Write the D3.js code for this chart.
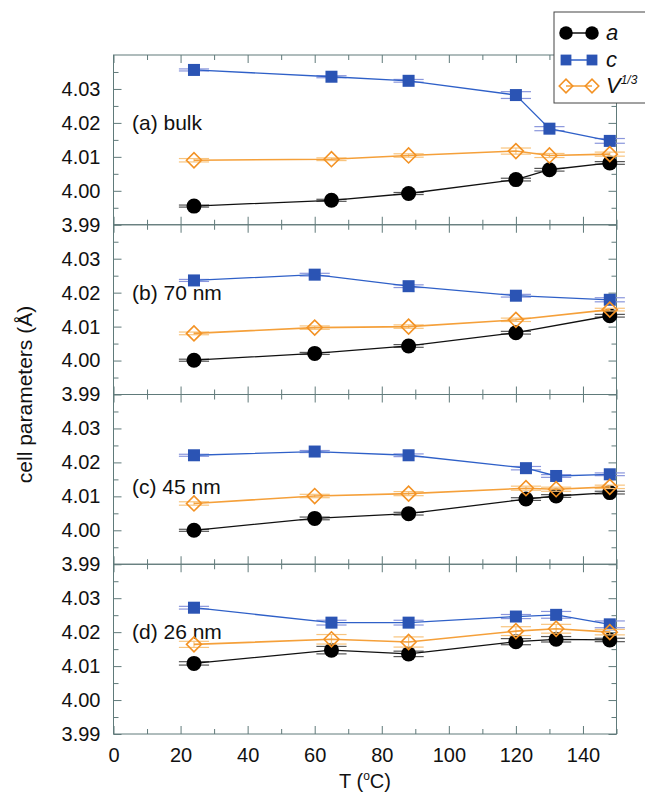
<!DOCTYPE html>
<html>
<head>
<meta charset="utf-8">
<script src="https://cdn.jsdelivr.net/npm/d3@7"></script>
<style>
  body { margin: 0; background: #fff; }
  svg { display: block; font-family: "Liberation Sans", Arial, Helvetica, sans-serif; }
</style>
</head>
<body>
<svg id="chart" width="645" height="794"></svg>
<script>
// temperatures (°C) measured for each sample
const tBulk = [24, 65, 88, 120, 130, 148]
const t70 = [24, 60, 88, 120, 148]
const t45 = [24, 60, 88, 123, 132, 148]
const t26 = [24, 65, 88, 120, 132, 148]

// cell parameters (Å): a, c and V^(1/3)
const aBulk = [3.9955, 3.9972, 3.9992, 4.0033, 4.0062, 4.0082]
const cBulk = [4.0356, 4.0336, 4.0324, 4.0282, 4.0183, 4.0147]
const vBulk = [4.0090, 4.0093, 4.0104, 4.0117, 4.0104, 4.0108]

const a70 = [4.0001, 4.0021, 4.0043, 4.0082, 4.0132]
const c70 = [4.0236, 4.0253, 4.0219, 4.0191, 4.0179]
const v70 = [4.0080, 4.0097, 4.0100, 4.0120, 4.0150]

const a45 = [4.0000, 4.0035, 4.0049, 4.0092, 4.0101, 4.0111]
const c45 = [4.0221, 4.0232, 4.0221, 4.0183, 4.0160, 4.0165]
const v45 = [4.0079, 4.0101, 4.0108, 4.0124, 4.0121, 4.0128]

const a26 = [4.0108, 4.0147, 4.0136, 4.0172, 4.0179, 4.0177]
const c26 = [4.0272, 4.0228, 4.0228, 4.0246, 4.0251, 4.0223]
const v26 = [4.0164, 4.0179, 4.0171, 4.0203, 4.0210, 4.0200]

// error bars (Å)
const aErrBulk = [0.0003, 0.0003, 0.0003, 0.0004, 0.0004, 0.0004]
const cErrBulk = [0.0003, 0.0003, 0.0004, 0.0010, 0.0006, 0.0007]
const vErrBulk = [0.0005, 0.0004, 0.0005, 0.0009, 0.0006, 0.0006]
const aErr70 = [0.0003, 0.0003, 0.0004, 0.0004, 0.0004]
const cErr70 = [0.0003, 0.0004, 0.0004, 0.0004, 0.0006]
const vErr70 = [0.0004, 0.0005, 0.0005, 0.0005, 0.0004]
const aErr45 = [0.0003, 0.0004, 0.0004, 0.0004, 0.0004, 0.0004]
const cErr45 = [0.0003, 0.0003, 0.0004, 0.0005, 0.0004, 0.0004]
const vErr45 = [0.0005, 0.0005, 0.0006, 0.0006, 0.0006, 0.0005]
const aErr26 = [0.0005, 0.0011, 0.0008, 0.0009, 0.0008, 0.0005]
const cErr26 = [0.0004, 0.0007, 0.0007, 0.0006, 0.0010, 0.0010]
const vErr26 = [0.0009, 0.0014, 0.0015, 0.0013, 0.0013, 0.0008]

const panelLabels = ["(a) bulk", "(b) 70 nm", "(c) 45 nm", "(d) 26 nm"]
const yMajor = [3.99, 4.00, 4.01, 4.02, 4.03]
const yMinor = [3.995, 4.005, 4.015, 4.025, 4.035]
const xMajor = [0, 20, 40, 60, 80, 100, 120, 140]
const xMinor = [10, 30, 50, 70, 90, 110, 130, 150]
const capHalf = 4.5 // °C, half width of the error bar caps

const panels = [
  {t: tBulk, a: aBulk, c: cBulk, v: vBulk, ea: aErrBulk, ec: cErrBulk, ev: vErrBulk},
  {t: t70, a: a70, c: c70, v: v70, ea: aErr70, ec: cErr70, ev: vErr70},
  {t: t45, a: a45, c: c45, v: v45, ea: aErr45, ec: cErr45, ev: vErr45},
  {t: t26, a: a26, c: c26, v: v26, ea: aErr26, ec: cErr26, ev: vErr26},
]

const series = [
  {key: "a", err: "ea", line: "#111", cap: "#555", shape: "circle"},
  {key: "c", err: "ec", line: "#2f60c8", cap: "#8a96dc", shape: "square"},
  {key: "v", err: "ev", line: "#f5a03a", cap: "#f8c47e", shape: "diamond"},
]

const svg = d3.select("#chart")
const frame = "#607a7a"
const plotLeft = 113.5, plotRight = 616.5, plotTop = 55, plotBottom = 734
const ph = (plotBottom - plotTop) / panels.length

const x = d3.scaleLinear().domain([0, 150]).range([plotLeft, plotRight])

function drawMarker(g, shape, cx, cy, s) {
  if (shape === "circle") {
    g.append("circle").attr("cx", cx).attr("cy", cy).attr("r", 7.5 * s).attr("fill", "#000")
  } else if (shape === "square") {
    const h = 6 * s
    g.append("rect").attr("x", cx - h).attr("y", cy - h).attr("width", 2 * h).attr("height", 2 * h)
      .attr("fill", "#2b54b4")
  } else {
    const h = 7.5 * s
    g.append("path")
      .attr("d", `M${cx - h},${cy}L${cx},${cy - h}L${cx + h},${cy}L${cx},${cy + h}Z`)
      .attr("fill", "none").attr("stroke", "#f39224").attr("stroke-width", 1.6)
  }
}

// ticks all point inward, no domain path (frame drawn as a rect)
function tickStyle(sel) {
  sel.select(".domain").remove()
  sel.selectAll("line").attr("stroke", frame)
  sel.selectAll("text").attr("font-size", 20).attr("fill", "#111")
}

panels.forEach((p, i) => {
  const y0 = plotTop + i * ph
  const y = d3.scaleLinear().domain([3.99, 4.04]).range([y0 + ph, y0])
  const g = svg.append("g").attr("class", "panel")

  g.append("g").attr("transform", `translate(${plotLeft},0)`)
    .call(d3.axisLeft(y).tickValues(yMajor).tickSize(-8).tickPadding(13).tickFormat(d3.format(".2f")))
    .call(tickStyle)
  g.append("g").attr("transform", `translate(${plotLeft},0)`)
    .call(d3.axisLeft(y).tickValues(yMinor).tickSize(-5).tickFormat(""))
    .call(tickStyle)
  g.append("g").attr("transform", `translate(${plotRight},0)`)
    .call(d3.axisRight(y).tickValues(yMajor).tickSize(-8).tickFormat(""))
    .call(tickStyle)
  g.append("g").attr("transform", `translate(${plotRight},0)`)
    .call(d3.axisRight(y).tickValues(yMinor).tickSize(-5).tickFormat(""))
    .call(tickStyle)
  g.append("g").attr("transform", `translate(0,${y0})`)
    .call(d3.axisTop(x).tickValues(xMajor).tickSize(-8).tickFormat(""))
    .call(tickStyle)
  g.append("g").attr("transform", `translate(0,${y0})`)
    .call(d3.axisTop(x).tickValues(xMinor).tickSize(-5).tickFormat(""))
    .call(tickStyle)
  const last = i === panels.length - 1
  g.append("g").attr("transform", `translate(0,${y0 + ph})`)
    .call(d3.axisBottom(x).tickValues(xMajor).tickSize(-8).tickPadding(14)
      .tickFormat(last ? d3.format("d") : ""))
    .call(tickStyle)
  g.append("g").attr("transform", `translate(0,${y0 + ph})`)
    .call(d3.axisBottom(x).tickValues(xMinor).tickSize(-5).tickFormat(""))
    .call(tickStyle)

  g.append("rect")
    .attr("x", plotLeft).attr("y", y0).attr("width", plotRight - plotLeft).attr("height", ph)
    .attr("fill", "none").attr("stroke", frame).attr("stroke-width", 1)

  g.append("text")
    .attr("x", 132).attr("y", y(i === 2 ? 4.0128 : 4.02) + 7)
    .attr("font-size", 21).attr("fill", "#111")
    .text(panelLabels[i])

  series.forEach(s => {
    const vals = p[s.key], errs = p[s.err]
    const pts = p.t.map((t, j) => ({t, v: vals[j], e: errs[j]}))
    const sg = g.append("g")
    pts.forEach(d => {
      ;[d.v - d.e, d.v + d.e].forEach(yy => {
        sg.append("line")
          .attr("x1", x(d.t - capHalf)).attr("x2", x(d.t + capHalf))
          .attr("y1", y(yy)).attr("y2", y(yy))
          .attr("stroke", s.cap).attr("stroke-width", 1.2)
      })
      sg.append("line")
        .attr("x1", x(d.t)).attr("x2", x(d.t))
        .attr("y1", y(d.v - d.e)).attr("y2", y(d.v + d.e))
        .attr("stroke", s.cap).attr("stroke-width", 1.2)
    })
    sg.append("path")
      .attr("d", d3.line().x(d => x(d.t)).y(d => y(d.v))(pts))
      .attr("fill", "none").attr("stroke", s.line).attr("stroke-width", s.key === "v" ? 1.6 : 1.3)
    pts.forEach(d => drawMarker(sg, s.shape, x(d.t), y(d.v), 1))
  })
})

// axis titles
svg.append("text")
  .attr("transform", `translate(32,${(plotTop + plotBottom) / 2}) rotate(-90)`)
  .attr("text-anchor", "middle").attr("font-size", 21).attr("fill", "#111")
  .text("cell parameters (Å)")

const xt = svg.append("text")
  .attr("x", (plotLeft + plotRight) / 2).attr("y", 788)
  .attr("text-anchor", "middle").attr("font-size", 20).attr("fill", "#111")
xt.append("tspan").text("T (")
xt.append("tspan").attr("font-size", 12).attr("dy", -8).text("o")
xt.append("tspan").attr("dy", 8).text("C)")

// legend
const lg = svg.append("g")
lg.append("rect").attr("x", 554).attr("y", 12).attr("width", 100).attr("height", 91)
  .attr("fill", "#fff").attr("stroke", "#444").attr("stroke-width", 1)
const legendRows = [33, 60, 86]
series.forEach((s, k) => {
  const yy = legendRows[k]
  lg.append("line").attr("x1", 566).attr("x2", 592).attr("y1", yy).attr("y2", yy)
    .attr("stroke", s.line).attr("stroke-width", 1.5)
  drawMarker(lg, s.shape, 566, yy, 0.9)
  drawMarker(lg, s.shape, 592, yy, 0.9)
  const tx = lg.append("text").attr("x", 606).attr("y", yy + 7)
    .attr("font-size", 22).attr("font-style", "italic").attr("fill", "#111")
  if (s.key === "v") {
    tx.append("tspan").text("V")
    tx.append("tspan").attr("font-size", 12).attr("dy", -9).text("1/3")
  } else {
    tx.text(s.key)
  }
})
</script>
</body>
</html>
